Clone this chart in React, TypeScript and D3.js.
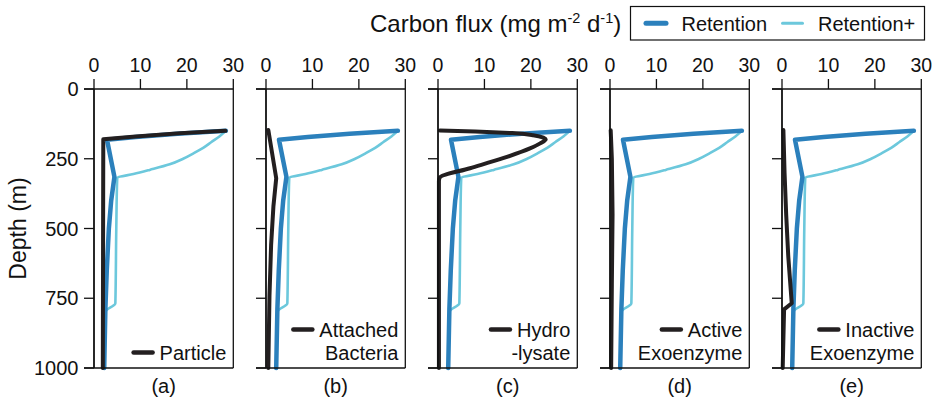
import React, { useEffect, useRef } from "react";
import * as d3 from "d3";

// ---------- data ----------
const FLUX_TICKS = [0, 10, 20, 30];
const DEPTH_TICKS = [0, 250, 500, 750, 1000];
const PANEL_LABELS = ["(a)", "(b)", "(c)", "(d)", "(e)"];
const COMPONENT_NAMES = [
  ["Particle"],
  ["Attached", "Bacteria"],
  ["Hydro", "-lysate"],
  ["Active", "Exoenzyme"],
  ["Inactive", "Exoenzyme"],
];
const LEGEND_NAMES = ["Retention", "Retention+"];

// Retention (same in every panel)
const retentionDepth = [150, 160, 172, 182, 315, 400, 500, 650, 790, 1000];
const retentionFlux = [28.4, 18, 9, 2.8, 4.4, 3.7, 3.2, 2.75, 2.45, 2.2];

// Retention+ (same in every panel)
const retentionPlusDepth = [150, 170, 190, 210, 230, 250, 270, 290, 305, 318, 500, 768, 798, 1000];
const retentionPlusFlux = [28.4, 27, 25.3, 23.6, 21.5, 19.2, 16.3, 12, 8.5, 5.0, 4.8, 4.6, 2.5, 2.2];

// component curves (black)
const particleDepth = [150, 159, 170, 180, 1000];
const particleFlux = [28.3, 18.5, 9, 2.0, 1.9];

const bacteriaDepth = [147, 320, 420, 560, 740, 1000];
const bacteriaFlux = [0.5, 2.2, 1.6, 1.1, 0.75, 0.5];

const hydrolysateDepth = [149, 152, 158, 166, 180, 195, 213, 248, 284, 317, 330, 1000];
const hydrolysateFlux = [0.4, 8, 16, 20.5, 23.2, 22, 19.8, 14, 6.9, 0.4, 0.2, 0.2];

const activeDepth = [148, 250, 450, 700, 1000];
const activeFlux = [0.15, 0.4, 0.55, 0.4, 0.25];

const inactiveDepth = [147, 300, 450, 600, 768, 790, 1000];
const inactiveFlux = [0.3, 0.55, 0.9, 1.35, 2.1, 0.45, 0.15];

const componentDepths = [particleDepth, bacteriaDepth, hydrolysateDepth, activeDepth, inactiveDepth];
const componentFluxes = [particleFlux, bacteriaFlux, hydrolysateFlux, activeFlux, inactiveFlux];

// ---------- style ----------
const W = 939;
const H = 406;
const DARK = "#2b80bc";
const LIGHT = "#6cc8dc";
const BLACK = "#231f20";
const FONT = "'Liberation Sans', Arial, Helvetica, sans-serif";

export default function App() {
  const ref = useRef<SVGSVGElement>(null);

  useEffect(() => {
    const svg = d3.select(ref.current);
    svg.selectAll("*").remove();

    const top = 89;
    const bottom = 368;
    const firstX = 94;
    const step = 172;
    const pw = 139.3;

    const y = d3.scaleLinear().domain([0, 1000]).range([top, bottom]);

    const root = svg.append("g").attr("font-family", FONT).attr("fill", "#111");

    // title
    const title = root
      .append("text")
      .attr("x", 370)
      .attr("y", 32)
      .attr("font-size", 24)
      .attr("fill", "#111");
    title.append("tspan").text("Carbon flux (mg m");
    title.append("tspan").attr("font-size", 14.5).attr("dy", -9).text("-2");
    title.append("tspan").attr("dy", 9).text(" d");
    title.append("tspan").attr("font-size", 14.5).attr("dy", -9).text("-1");
    title.append("tspan").attr("dy", 9).text(")");

    // legend box
    const lg = root.append("g");
    lg.append("rect")
      .attr("x", 630.5)
      .attr("y", 6.5)
      .attr("width", 294)
      .attr("height", 33.5)
      .attr("fill", "white")
      .attr("stroke", "#111")
      .attr("stroke-width", 1.2);
    lg.append("line")
      .attr("x1", 646).attr("x2", 666).attr("y1", 23.3).attr("y2", 23.3)
      .attr("stroke", DARK).attr("stroke-width", 5).attr("stroke-linecap", "round");
    lg.append("text").attr("x", 681.5).attr("y", 30.5).attr("font-size", 20).text(LEGEND_NAMES[0]);
    lg.append("line")
      .attr("x1", 782.5).attr("x2", 802.5).attr("y1", 23.3).attr("y2", 23.3)
      .attr("stroke", LIGHT).attr("stroke-width", 3).attr("stroke-linecap", "round");
    lg.append("text").attr("x", 818).attr("y", 30.5).attr("font-size", 20).text(LEGEND_NAMES[1]);

    // y axis title
    root
      .append("text")
      .attr("transform", `translate(26,${(top + bottom) / 2}) rotate(-90)`)
      .attr("text-anchor", "middle")
      .attr("font-size", 23)
      .text("Depth (m)");

    // y tick labels
    DEPTH_TICKS.forEach((d) => {
      root
        .append("text")
        .attr("x", 78.5)
        .attr("y", y(d))
        .attr("dy", "0.36em")
        .attr("text-anchor", "end")
        .attr("font-size", 20)
        .text(String(d));
    });

    for (let i = 0; i < 5; i++) {
      const x0 = firstX + step * i;
      const x = d3.scaleLinear().domain([0, 30]).range([x0, x0 + pw]);
      const g = root.append("g");

      const mk = (curve: d3.CurveFactory) =>
        d3
          .line<[number, number]>()
          .x((p) => x(p[1]))
          .y((p) => y(p[0]))
          .curve(curve);
      const linear = mk(d3.curveLinear);
      const smooth = mk(d3.curveMonotoneY);

      const pairs = (ds: number[], vs: number[]) => ds.map((d, k) => [d, vs[k]] as [number, number]);

      g.append("path")
        .attr("d", smooth(pairs(retentionPlusDepth, retentionPlusFlux)))
        .attr("fill", "none")
        .attr("stroke", LIGHT)
        .attr("stroke-width", 2.6)
        .attr("stroke-linejoin", "round")
        .attr("stroke-linecap", "round");
      g.append("path")
        .attr("d", linear(pairs(retentionDepth, retentionFlux)))
        .attr("fill", "none")
        .attr("stroke", DARK)
        .attr("stroke-width", 4.5)
        .attr("stroke-linejoin", "round")
        .attr("stroke-linecap", "round");
      g.append("path")
        .attr("d", (i === 2 ? smooth : linear)(pairs(componentDepths[i], componentFluxes[i])))
        .attr("fill", "none")
        .attr("stroke", BLACK)
        .attr("stroke-width", 4)
        .attr("stroke-linejoin", "round")
        .attr("stroke-linecap", "round");

      // frame
      g.append("line").attr("x1", x0).attr("x2", x0).attr("y1", top).attr("y2", bottom)
        .attr("stroke", "#111").attr("stroke-width", 1.8);
      g.append("line").attr("x1", x0 - 10).attr("x2", x0 + pw).attr("y1", top).attr("y2", top)
        .attr("stroke", "#111").attr("stroke-width", 1.6);
      g.append("line").attr("x1", x0 + pw).attr("x2", x0 + pw).attr("y1", top).attr("y2", bottom)
        .attr("stroke", "#111").attr("stroke-width", 1.3);
      g.append("line").attr("x1", x0 - 10).attr("x2", x0 + pw).attr("y1", bottom).attr("y2", bottom)
        .attr("stroke", "#111").attr("stroke-width", 1.3);

      // left ticks
      DEPTH_TICKS.forEach((d) => {
        g.append("line").attr("x1", x0 - 10).attr("x2", x0).attr("y1", y(d)).attr("y2", y(d))
          .attr("stroke", "#111").attr("stroke-width", 1.3);
      });
      // top ticks + labels
      FLUX_TICKS.forEach((v) => {
        g.append("line").attr("x1", x(v)).attr("x2", x(v)).attr("y1", top - 10).attr("y2", top)
          .attr("stroke", "#111").attr("stroke-width", 1.3);
        g.append("text")
          .attr("x", x(v))
          .attr("y", 72)
          .attr("text-anchor", "middle")
          .attr("font-size", 19.5)
          .text(String(v));
      });

      // panel label
      g.append("text")
        .attr("x", x0 + pw / 2)
        .attr("y", 393)
        .attr("text-anchor", "middle")
        .attr("font-size", 20)
        .text(PANEL_LABELS[i]);

      // component legend
      const names = COMPONENT_NAMES[i];
      const right = x0 + pw - 7;
      const baselines = names.length === 1 ? [360] : [337, 360];
      let firstText: SVGTextElement | null = null;
      names.forEach((n, k) => {
        const t = g
          .append("text")
          .attr("x", right)
          .attr("y", baselines[k])
          .attr("text-anchor", "end")
          .attr("font-size", 20)
          .text(n);
        if (k === 0) firstText = t.node();
      });
      let tw = 70;
      if (firstText) {
        try {
          tw = (firstText as SVGTextElement).getComputedTextLength();
        } catch (e) {}
      }
      const sx2 = right - tw - 7;
      g.append("line")
        .attr("x1", sx2 - 19)
        .attr("x2", sx2)
        .attr("y1", baselines[0] - 7.5)
        .attr("y2", baselines[0] - 7.5)
        .attr("stroke", BLACK)
        .attr("stroke-width", 4.5)
        .attr("stroke-linecap", "round");
    }
  }, []);

  return (
    <svg
      ref={ref}
      width={W}
      height={H}
      style={{ position: "absolute", left: 0, top: 0, background: "white" }}
    />
  );
}
